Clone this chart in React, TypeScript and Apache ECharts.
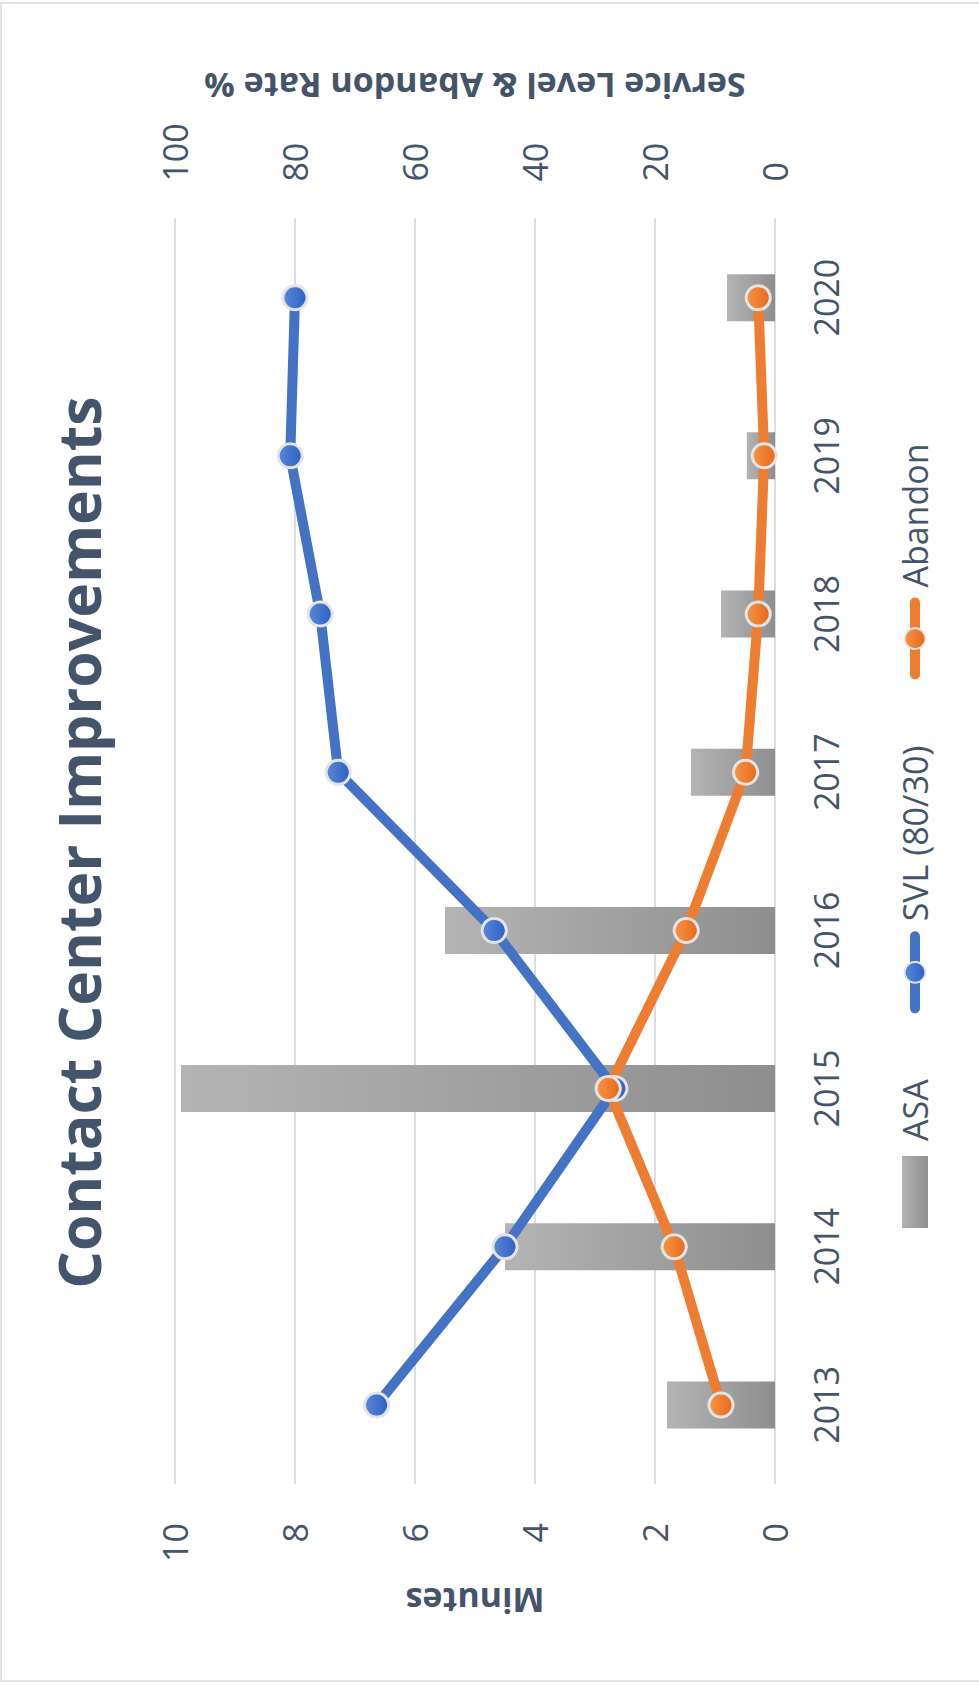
import React, { useEffect, useRef } from "react";
import * as echarts from "echarts";

const years = ["2013", "2014", "2015", "2016", "2017", "2018", "2019", "2020"];
const asaMinutes = [1.8, 4.5, 9.9, 5.5, 1.4, 0.9, 0.47, 0.8];
const svlPercent = [66.4, 45, 26.7, 46.8, 72.8, 75.8, 80.8, 80];
const abandonPercent = [9, 16.8, 27.8, 14.8, 4.9, 2.8, 1.8, 2.8];

const TEXT = "#44546a";
const FONT = "Open Sans";

// Chart is drawn in its natural landscape orientation, then turned 90° counter-clockwise.
const CW = 1685; // natural width  -> page height
const CH = 979; // natural height -> page width

export default function App() {
  const ref = useRef<HTMLDivElement>(null);

  useEffect(() => {
    if (!ref.current) return;
    const chart = echarts.init(ref.current, undefined, { renderer: "svg", width: CW, height: CH });
    const barGrad = new echarts.graphic.LinearGradient(0, 0, 0, 1, [
      { offset: 0, color: "#b4b4b4" },
      { offset: 1, color: "#8e8e8e" },
    ]);
    const blueGrad = new echarts.graphic.LinearGradient(0, 0, 0, 1, [
      { offset: 0, color: "#5a88d8" },
      { offset: 1, color: "#2d60c2" },
    ]);
    const orangeGrad = new echarts.graphic.LinearGradient(0, 0, 0, 1, [
      { offset: 0, color: "#f59448" },
      { offset: 1, color: "#e8691a" },
    ]);
    chart.setOption({
      animation: false,
      backgroundColor: "transparent",
      title: {
        text: "Contact Center Improvements",
        left: "center",
        top: 43,
        textStyle: { fontFamily: FONT, fontSize: 59, fontWeight: "bold", color: TEXT },
      },
      legend: {
        left: 452,
        top: 893,
        itemWidth: 72,
        itemHeight: 26,
        itemGap: 66,
        textStyle: { fontFamily: FONT, fontSize: 34, color: TEXT, padding: [0, 0, 0, 10] },
        data: [
          { name: "ASA", icon: "rect" },
          { name: "SVL (80/30)", lineStyle: { width: 10, cap: "round" } },
          { name: "Abandon", lineStyle: { width: 10, cap: "round" } },
        ],
      },
      grid: { left: 201, right: 218.6, top: 175, bottom: 204, containLabel: false },
      xAxis: {
        type: "category",
        data: years,
        boundaryGap: true,
        axisLine: { show: false },
        axisTick: { show: false },
        axisLabel: { margin: 34, fontFamily: FONT, fontSize: 34, color: TEXT },
      },
      yAxis: [
        {
          type: "value",
          min: 0,
          max: 10,
          interval: 2,
          name: "Minutes",
          nameLocation: "middle",
          nameRotate: 90,
          nameGap: 100,
          nameTextStyle: { fontFamily: FONT, fontSize: 34, fontWeight: "bold", color: TEXT },
          axisLabel: { margin: 39, fontFamily: FONT, fontSize: 34, color: TEXT },
          axisLine: { show: false },
          axisTick: { show: false },
          splitLine: { lineStyle: { color: "#d9dee6", width: 2 } },
        },
        {
          type: "value",
          min: 0,
          max: 100,
          interval: 20,
          position: "right",
          name: "Service Level & Abandon Rate %",
          nameLocation: "middle",
          nameRotate: 90,
          nameGap: 116,
          nameTextStyle: { fontFamily: FONT, fontSize: 34, fontWeight: "bold", color: TEXT },
          axisLabel: { margin: 37, fontFamily: FONT, fontSize: 34, color: TEXT },
          axisLine: { show: false },
          axisTick: { show: false },
          splitLine: { show: false },
        },
      ],
      series: [
        {
          name: "ASA",
          type: "bar",
          yAxisIndex: 0,
          data: asaMinutes,
          barWidth: 47,
          itemStyle: { color: barGrad },
        },
        {
          name: "SVL (80/30)",
          type: "line",
          yAxisIndex: 1,
          data: svlPercent,
          symbol: "circle",
          symbolSize: 24,
          lineStyle: { color: "#4472c4", width: 10 },
          itemStyle: { color: blueGrad, borderColor: "#e4e4e4", borderWidth: 3 },
        },
        {
          name: "Abandon",
          type: "line",
          yAxisIndex: 1,
          data: abandonPercent,
          symbol: "circle",
          symbolSize: 24,
          lineStyle: { color: "#ed7d31", width: 10 },
          itemStyle: { color: orangeGrad, borderColor: "#e4e4e4", borderWidth: 3 },
        },
      ],
    });
    return () => chart.dispose();
  }, []);

  return (
    <div
      style={{
        position: "fixed",
        left: 0,
        top: 0,
        width: 979,
        height: 1685,
        overflow: "hidden",
        background: "#ffffff",
      }}
    >
      <div
        ref={ref}
        style={{
          position: "absolute",
          left: 0,
          top: 0,
          width: CW,
          height: CH,
          transformOrigin: "0 0",
          transform: `translateY(${CW}px) rotate(-90deg)`,
        }}
      />
      <div
        style={{
          position: "absolute",
          left: 0,
          top: 2,
          width: 990,
          height: 1676,
          border: "2px solid #dfe4eb",
          pointerEvents: "none",
        }}
      />
    </div>
  );
}
